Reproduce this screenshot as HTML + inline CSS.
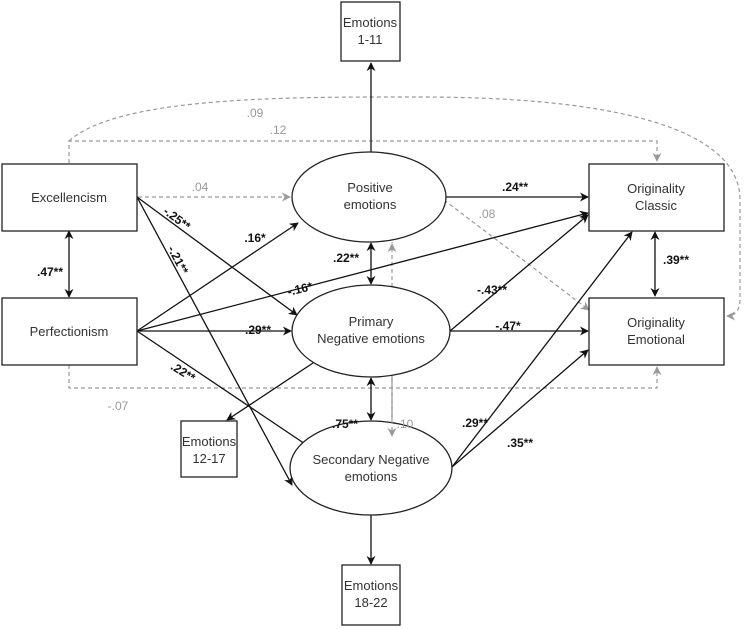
<!DOCTYPE html>
<html><head><meta charset="utf-8"><style>
html,body{margin:0;padding:0;background:#fff;}
svg{display:block;font-family:"Liberation Sans",Arial,sans-serif;}
.n{font-size:13px;fill:#333;text-anchor:middle;}
.l{font-size:12px;font-weight:bold;fill:#111;text-anchor:middle;}
.g{font-size:12px;fill:#999;text-anchor:middle;}
</style></head><body>
<svg width="749" height="629" viewBox="0 0 749 629" xmlns="http://www.w3.org/2000/svg">
<defs>
<marker id="a" viewBox="0 0 10 10" refX="9" refY="5" markerWidth="9" markerHeight="9" markerUnits="userSpaceOnUse" orient="auto-start-reverse"><path d="M0,0 L10,5 L0,10 L3,5 z" fill="#111"/></marker>
<marker id="ag" viewBox="0 0 10 10" refX="9" refY="5" markerWidth="9" markerHeight="9" markerUnits="userSpaceOnUse" orient="auto"><path d="M0,0 L10,5 L0,10 L3,5 z" fill="#999"/></marker>
</defs>
<g fill="none" stroke="#999" stroke-width="1.2" stroke-dasharray="4,3">
<path d="M69,163 L69,141 L657,141 L657,161" marker-end="url(#ag)"/>
<path d="M69,141 C120,95 300,97 420,97 C620,97 740,130 740,200 L740,300 C740,310 735,316 727,316" marker-end="url(#ag)"/>
<path d="M69,365 L69,388 L657,388 L657,367" marker-end="url(#ag)"/>
<path d="M138,197 L290,197" marker-end="url(#ag)"/>
<path d="M444,200 L589,310" marker-end="url(#ag)"/>
<path d="M392,441 L392,244" marker-end="url(#ag)"/>
<path d="M392,242 L392,243"/>
</g>
<g fill="none" stroke="#111" stroke-width="1.3">
<line x1="371" y1="152" x2="371" y2="63" marker-end="url(#a)"/>
<line x1="445" y1="197" x2="588" y2="197" marker-end="url(#a)"/>
<line x1="137" y1="331" x2="588" y2="213" marker-end="url(#a)"/>
<line x1="137" y1="331" x2="298" y2="223" marker-end="url(#a)"/>
<line x1="137" y1="331" x2="291" y2="331" marker-end="url(#a)"/>
<line x1="137" y1="331" x2="317" y2="452" marker-end="url(#a)"/>
<line x1="137" y1="197" x2="297" y2="315" marker-end="url(#a)"/>
<line x1="137" y1="197" x2="292" y2="485" marker-end="url(#a)"/>
<line x1="313" y1="363" x2="227" y2="420" marker-end="url(#a)"/>
<line x1="371" y1="243" x2="371" y2="284" marker-start="url(#a)" marker-end="url(#a)"/>
<line x1="371" y1="378" x2="371" y2="420" marker-start="url(#a)" marker-end="url(#a)"/>
<line x1="450" y1="331" x2="588" y2="215" marker-end="url(#a)"/>
<line x1="450" y1="331" x2="588" y2="331" marker-end="url(#a)"/>
<line x1="452" y1="467" x2="632" y2="232" marker-end="url(#a)"/>
<line x1="452" y1="467" x2="588" y2="350" marker-end="url(#a)"/>
<line x1="371" y1="515" x2="371" y2="564" marker-end="url(#a)"/>
<line x1="655" y1="232" x2="655" y2="296" marker-start="url(#a)" marker-end="url(#a)"/>
<line x1="69" y1="231" x2="69" y2="297" marker-start="url(#a)" marker-end="url(#a)"/>
</g>
<g fill="#fff" stroke="#222" stroke-width="1.3">
<rect x="2" y="164" width="135" height="67"/>
<rect x="2" y="298" width="135" height="67"/>
<rect x="589" y="164" width="135" height="67"/>
<rect x="589" y="298" width="135" height="67"/>
<rect x="341" y="2" width="59" height="59"/>
<rect x="181" y="421" width="56" height="56"/>
<rect x="342" y="565" width="58" height="60"/>
<ellipse cx="369" cy="197" rx="77" ry="45"/>
<ellipse cx="371" cy="331" rx="79" ry="46"/>
<ellipse cx="371" cy="468" rx="81" ry="47"/>
<line x1="392" y1="378" x2="392" y2="420" stroke="#999" stroke-dasharray="4,3" fill="none"/>
</g>
<line x1="392" y1="378" x2="392" y2="436" stroke="#999" stroke-width="1.2" stroke-dasharray="4,3" marker-end="url(#ag)"/>
<text class="n" x="69" y="202">Excellencism</text>
<text class="n" x="69" y="336">Perfectionism</text>
<text class="n" x="656" y="193">Originality</text><text class="n" x="656" y="210">Classic</text>
<text class="n" x="656" y="327">Originality</text><text class="n" x="656" y="344">Emotional</text>
<text class="n" x="370" y="27">Emotions</text><text class="n" x="370" y="44">1-11</text>
<text class="n" x="209" y="446">Emotions</text><text class="n" x="209" y="463">12-17</text>
<text class="n" x="371" y="590">Emotions</text><text class="n" x="371" y="607">18-22</text>
<text class="n" x="370" y="192">Positive</text><text class="n" x="370" y="209">emotions</text>
<text class="n" x="371" y="326">Primary</text><text class="n" x="371" y="343">Negative emotions</text>
<text class="n" x="371" y="484" dy="-20">Secondary Negative</text><text class="n" x="371" y="481">emotions</text>
<text class="g" x="200" y="191">.04</text>
<text class="l" x="200" y="250" transform="rotate(37 200 246)" dx="-35" dy="-8">-.25**</text>
<text class="l" x="178" y="264" transform="rotate(62 178 260)">-.21**</text>
<text class="l" x="255" y="242">.16*</text>
<text class="l" x="346" y="262">.22**</text>
<text class="l" x="300" y="293" transform="rotate(-14 300 289)">-.16*</text>
<text class="l" x="258" y="334">.29**</text>
<text class="l" x="183" y="376" transform="rotate(32 183 372)">.22**</text>
<text class="l" x="50" y="276">.47**</text>
<text class="g" x="118" y="410">-.07</text>
<text class="l" x="345" y="428">.75**</text>
<text class="g" x="405" y="428">.10</text>
<text class="l" x="475" y="427">.29**</text>
<text class="l" x="520" y="447">.35**</text>
<text class="l" x="492" y="294">-.43**</text>
<text class="l" x="508" y="330">-.47*</text>
<text class="l" x="515" y="191">.24**</text>
<text class="g" x="487" y="218">.08</text>
<text class="l" x="676" y="264">.39**</text>
<text class="g" x="255" y="117">.09</text>
<text class="g" x="278" y="134">.12</text>
</svg>
</body></html>
